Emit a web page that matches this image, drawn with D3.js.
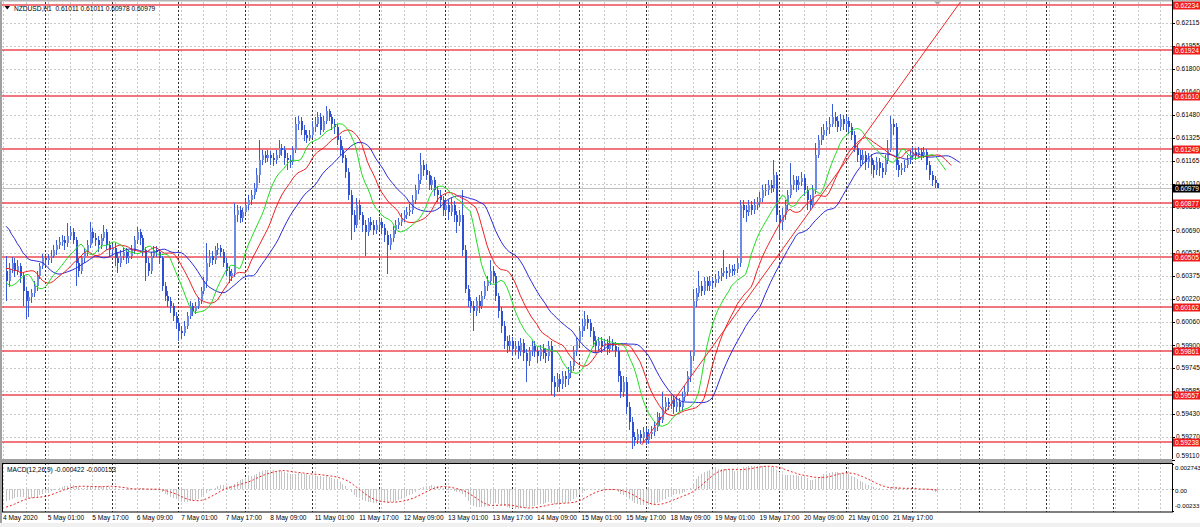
<!DOCTYPE html>
<html><head><meta charset="utf-8">
<script src="https://cdn.jsdelivr.net/npm/d3@7"></script>
<style>
body{margin:0;background:#fff;overflow:hidden;}
svg{display:block;}
text{font-family:"Liberation Sans",Arial,sans-serif;}
</style>
</head><body>
<svg id="c" width="1200" height="527"></svg>
<script>
// ---------------- DATA ----------------
const symbolTitle = "NZDUSD,H1  0.61011 0.61011 0.60978 0.60979";
const macdTitle = "MACD(12,26,9) -0.000422 -0.000153";

const opens = [
0.60413,0.60343,0.60427,0.60468,0.60413,0.60447,0.60378,0.60274,0.60205,0.60232,
0.60260,0.60308,0.60378,0.60447,0.60496,0.60482,0.60496,0.60516,0.60551,0.60585,
0.60606,0.60620,0.60599,0.60647,0.60675,0.60620,0.60468,0.60413,0.60496,0.60537,
0.60585,0.60675,0.60634,0.60620,0.60585,0.60634,0.60675,0.60585,0.60551,0.60565,
0.60496,0.60468,0.60516,0.60537,0.60496,0.60516,0.60551,0.60620,0.60675,0.60634,
0.60551,0.60468,0.60413,0.60516,0.60551,0.60537,0.60496,0.60308,0.60239,0.60205,
0.60170,0.60101,0.60053,0.59997,0.59983,0.60032,0.60101,0.60170,0.60136,0.60170,
0.60205,0.60274,0.60343,0.60468,0.60516,0.60482,0.60551,0.60565,0.60537,0.60468,
0.60413,0.60378,0.60399,0.60793,0.60828,0.60773,0.60814,0.60862,0.60897,0.60931,
0.60980,0.61070,0.61174,0.61208,0.61188,0.61208,0.61188,0.61174,0.61208,0.61257,
0.61243,0.61188,0.61174,0.61160,0.61243,0.61416,0.61437,0.61381,0.61346,0.61326,
0.61346,0.61396,0.61416,0.61465,0.61381,0.61437,0.61506,0.61465,0.61416,0.61396,
0.61312,0.61243,0.61188,0.61091,0.60931,0.60793,0.60724,0.60862,0.60793,0.60724,
0.60675,0.60745,0.60724,0.60689,0.60724,0.60745,0.60703,0.60654,0.60585,0.60634,
0.60689,0.60724,0.60745,0.60773,0.60793,0.60814,0.60828,0.60897,0.60966,0.61035,
0.61139,0.61105,0.61070,0.61000,0.61035,0.60966,0.60931,0.60897,0.60828,0.60862,
0.60814,0.60862,0.60793,0.60745,0.60793,0.60551,0.60288,0.60205,0.60170,0.60136,
0.60205,0.60170,0.60239,0.60308,0.60343,0.60413,0.60378,0.60239,0.60136,0.60032,
0.59928,0.59893,0.59928,0.59873,0.59893,0.59859,0.59914,0.59845,0.59790,0.59859,
0.59893,0.59859,0.59824,0.59873,0.59845,0.59824,0.59893,0.59651,0.59616,0.59666,
0.59637,0.59686,0.59666,0.59707,0.59755,0.59859,0.59928,0.59997,0.60032,0.60081,
0.60053,0.59997,0.59928,0.59893,0.59928,0.59893,0.59914,0.59873,0.59914,0.59893,
0.59859,0.59686,0.59582,0.59651,0.59478,0.59375,0.59270,0.59250,0.59291,0.59263,
0.59305,0.59250,0.59291,0.59305,0.59340,0.59409,0.59389,0.59478,0.59513,0.59499,
0.59527,0.59478,0.59513,0.59478,0.59547,0.59582,0.59686,0.59824,0.60205,0.60260,
0.60308,0.60274,0.60343,0.60308,0.60343,0.60329,0.60357,0.60378,0.60399,0.60413,
0.60399,0.60427,0.60413,0.60427,0.60468,0.60862,0.60828,0.60814,0.60862,0.60828,
0.60862,0.60883,0.60911,0.60966,0.60966,0.61000,0.60980,0.61070,0.60793,0.60745,
0.60793,0.60862,0.60931,0.61000,0.61035,0.61000,0.61021,0.61050,0.60966,0.60897,
0.60862,0.60966,0.61208,0.61312,0.61346,0.61381,0.61396,0.61416,0.61465,0.61437,
0.61396,0.61451,0.61416,0.61437,0.61396,0.61346,0.61257,0.61208,0.61174,0.61208,
0.61160,0.61188,0.61139,0.61105,0.61160,0.61119,0.61091,0.61174,0.61243,0.61416,
0.61396,0.61139,0.61105,0.61119,0.61139,0.61174,0.61208,0.61229,0.61208,0.61229,
0.61208,0.61229,0.61139,0.61070,0.61035,0.61011];

const highs = [
0.60516,0.60468,0.60503,0.60496,0.60482,0.60468,0.60399,0.60301,0.60274,0.60288,
0.60343,0.60413,0.60468,0.60530,0.60523,0.60530,0.60551,0.60585,0.60620,0.60641,
0.60654,0.60647,0.60738,0.60717,0.60703,0.60641,0.60496,0.60516,0.60565,0.60620,
0.60745,0.60703,0.60668,0.60647,0.60661,0.60724,0.60696,0.60613,0.60592,0.60599,
0.60537,0.60551,0.60572,0.60565,0.60551,0.60585,0.60647,0.60710,0.60696,0.60654,
0.60572,0.60496,0.60537,0.60579,0.60579,0.60558,0.60516,0.60336,0.60274,0.60232,
0.60191,0.60129,0.60081,0.60032,0.60067,0.60129,0.60205,0.60191,0.60198,0.60232,
0.60301,0.60371,0.60599,0.60551,0.60544,0.60579,0.60599,0.60585,0.60558,0.60496,
0.60440,0.60427,0.60876,0.60862,0.60855,0.60842,0.60897,0.60931,0.60966,0.61014,
0.61118,0.61312,0.61243,0.61236,0.61243,0.61236,0.61222,0.61243,0.61312,0.61284,
0.61271,0.61222,0.61208,0.61271,0.61465,0.61472,0.61465,0.61409,0.61381,0.61381,
0.61437,0.61465,0.61499,0.61492,0.61472,0.61541,0.61520,0.61485,0.61451,0.61416,
0.61340,0.61271,0.61208,0.61118,0.60966,0.60828,0.60911,0.60897,0.60814,0.60759,
0.60773,0.60780,0.60759,0.60759,0.60780,0.60773,0.60731,0.60682,0.60661,0.60717,
0.60759,0.60773,0.60807,0.60828,0.60849,0.60869,0.60931,0.61000,0.61077,0.61222,
0.61174,0.61146,0.61098,0.61063,0.61056,0.60994,0.60966,0.60925,0.60911,0.60897,
0.60911,0.60890,0.60821,0.60828,0.60966,0.60585,0.60315,0.60232,0.60205,0.60232,
0.60246,0.60274,0.60343,0.60378,0.60482,0.60447,0.60399,0.60260,0.60163,0.60067,
0.59963,0.59970,0.59956,0.59928,0.59928,0.59949,0.59942,0.59873,0.59886,0.59928,
0.59928,0.59886,0.59900,0.59907,0.59879,0.59928,0.59928,0.59686,0.59707,0.59700,
0.59721,0.59721,0.59748,0.59790,0.59893,0.59949,0.60032,0.60081,0.60136,0.60108,
0.60081,0.60025,0.59963,0.59956,0.59956,0.59942,0.59942,0.59963,0.59942,0.59921,
0.59886,0.59721,0.59686,0.59679,0.59513,0.59409,0.59305,0.59326,0.59319,0.59340,
0.59333,0.59326,0.59347,0.59382,0.59444,0.59437,0.59582,0.59547,0.59540,0.59561,
0.59554,0.59547,0.59540,0.59582,0.59623,0.59721,0.59859,0.60288,0.60295,0.60413,
0.60343,0.60371,0.60371,0.60378,0.60371,0.60392,0.60413,0.60433,0.60551,0.60440,
0.60461,0.60454,0.60461,0.60496,0.60897,0.60897,0.60862,0.60897,0.60890,0.60904,
0.60918,0.60952,0.61000,0.61007,0.61035,0.61035,0.61174,0.61091,0.60814,0.60842,
0.60897,0.60966,0.61153,0.61070,0.61063,0.61063,0.61091,0.61077,0.60994,0.60931,
0.61000,0.61292,0.61346,0.61396,0.61416,0.61437,0.61465,0.61554,0.61499,0.61472,
0.61485,0.61478,0.61472,0.61465,0.61423,0.61374,0.61284,0.61243,0.61243,0.61236,
0.61222,0.61215,0.61174,0.61195,0.61188,0.61153,0.61208,0.61312,0.61472,0.61451,
0.61423,0.61174,0.61153,0.61174,0.61208,0.61243,0.61264,0.61257,0.61264,0.61257,
0.61264,0.61250,0.61167,0.61098,0.61063,0.61011];

const lows = [
0.60205,0.60301,0.60399,0.60371,0.60385,0.60329,0.60170,0.60081,0.60094,0.60191,
0.60232,0.60274,0.60357,0.60427,0.60447,0.60454,0.60468,0.60496,0.60523,0.60558,
0.60579,0.60551,0.60572,0.60620,0.60592,0.60308,0.60371,0.60392,0.60468,0.60510,
0.60565,0.60599,0.60579,0.60537,0.60558,0.60613,0.60551,0.60510,0.60516,0.60447,
0.60399,0.60440,0.60482,0.60461,0.60468,0.60489,0.60530,0.60592,0.60585,0.60510,
0.60343,0.60378,0.60392,0.60496,0.60503,0.60461,0.60274,0.60205,0.60163,0.60122,
0.60067,0.60011,0.59928,0.59942,0.59963,0.60011,0.60081,0.60101,0.60115,0.60149,
0.60184,0.60253,0.60295,0.60440,0.60454,0.60461,0.60523,0.60503,0.60440,0.60378,
0.60329,0.60343,0.60371,0.60745,0.60738,0.60745,0.60793,0.60828,0.60862,0.60904,
0.60952,0.61014,0.61139,0.61153,0.61160,0.61139,0.61132,0.61146,0.61188,0.61201,
0.61139,0.61105,0.61118,0.61139,0.61222,0.61381,0.61346,0.61299,0.61292,0.61305,
0.61326,0.61361,0.61396,0.61346,0.61361,0.61416,0.61437,0.61381,0.61353,0.61278,
0.61208,0.61153,0.61049,0.60897,0.60620,0.60675,0.60703,0.60759,0.60675,0.60516,
0.60648,0.60689,0.60654,0.60661,0.60689,0.60661,0.60606,0.60392,0.60551,0.60606,
0.60661,0.60696,0.60717,0.60745,0.60766,0.60787,0.60800,0.60869,0.60939,0.61007,
0.61063,0.61035,0.60966,0.60966,0.60925,0.60883,0.60842,0.60787,0.60793,0.60759,
0.60787,0.60745,0.60668,0.60717,0.60516,0.60260,0.60163,0.60122,0.59997,0.60101,
0.60122,0.60149,0.60219,0.60274,0.60315,0.60329,0.60205,0.60087,0.59983,0.59873,
0.59845,0.59859,0.59824,0.59831,0.59804,0.59824,0.59790,0.59651,0.59755,0.59824,
0.59817,0.59776,0.59790,0.59804,0.59776,0.59790,0.59561,0.59547,0.59582,0.59582,
0.59603,0.59616,0.59630,0.59672,0.59721,0.59824,0.59893,0.59956,0.59997,0.60011,
0.59956,0.59886,0.59845,0.59859,0.59845,0.59859,0.59831,0.59845,0.59859,0.59817,
0.59651,0.59540,0.59547,0.59430,0.59319,0.59188,0.59209,0.59222,0.59222,0.59236,
0.59215,0.59222,0.59257,0.59278,0.59312,0.59347,0.59368,0.59444,0.59458,0.59465,
0.59430,0.59444,0.59444,0.59451,0.59520,0.59554,0.59651,0.59790,0.60163,0.60232,
0.60239,0.60246,0.60274,0.60274,0.60288,0.60301,0.60329,0.60343,0.60371,0.60357,
0.60371,0.60378,0.60385,0.60399,0.60440,0.60772,0.60745,0.60787,0.60793,0.60800,
0.60828,0.60849,0.60883,0.60925,0.60931,0.60945,0.60952,0.60745,0.60620,0.60689,
0.60759,0.60828,0.60911,0.60966,0.60952,0.60966,0.60994,0.60925,0.60828,0.60828,
0.60842,0.60939,0.61188,0.61278,0.61312,0.61340,0.61353,0.61396,0.61396,0.61361,
0.61374,0.61381,0.61381,0.61353,0.61312,0.61229,0.61160,0.61132,0.61146,0.61105,
0.61118,0.61077,0.61049,0.61070,0.61063,0.61049,0.61070,0.61146,0.61229,0.61346,
0.61105,0.61056,0.61070,0.61091,0.61118,0.61146,0.61174,0.61174,0.61188,0.61174,
0.61188,0.61105,0.61035,0.60994,0.60980,0.60978];

const closes = [
0.60343,0.60427,0.60468,0.60413,0.60447,0.60378,0.60274,0.60205,0.60232,0.60260,
0.60308,0.60378,0.60447,0.60496,0.60482,0.60496,0.60516,0.60551,0.60585,0.60606,
0.60620,0.60599,0.60647,0.60675,0.60620,0.60468,0.60413,0.60496,0.60537,0.60585,
0.60675,0.60634,0.60620,0.60585,0.60634,0.60675,0.60585,0.60551,0.60565,0.60496,
0.60468,0.60516,0.60537,0.60496,0.60516,0.60551,0.60620,0.60675,0.60634,0.60551,
0.60468,0.60413,0.60516,0.60551,0.60537,0.60496,0.60308,0.60239,0.60205,0.60170,
0.60101,0.60053,0.59997,0.59983,0.60032,0.60101,0.60170,0.60136,0.60170,0.60205,
0.60274,0.60343,0.60468,0.60516,0.60482,0.60551,0.60565,0.60537,0.60468,0.60413,
0.60378,0.60399,0.60793,0.60828,0.60773,0.60814,0.60862,0.60897,0.60931,0.60980,
0.61070,0.61174,0.61208,0.61188,0.61208,0.61188,0.61174,0.61208,0.61257,0.61243,
0.61188,0.61174,0.61160,0.61243,0.61416,0.61437,0.61381,0.61346,0.61326,0.61346,
0.61396,0.61416,0.61465,0.61381,0.61437,0.61506,0.61465,0.61416,0.61396,0.61312,
0.61243,0.61188,0.61091,0.60931,0.60793,0.60724,0.60862,0.60793,0.60724,0.60675,
0.60745,0.60724,0.60689,0.60724,0.60745,0.60703,0.60654,0.60585,0.60634,0.60689,
0.60724,0.60745,0.60773,0.60793,0.60814,0.60828,0.60897,0.60966,0.61035,0.61139,
0.61105,0.61070,0.61000,0.61035,0.60966,0.60931,0.60897,0.60828,0.60862,0.60814,
0.60862,0.60793,0.60745,0.60793,0.60551,0.60288,0.60205,0.60170,0.60136,0.60205,
0.60170,0.60239,0.60308,0.60343,0.60413,0.60378,0.60239,0.60136,0.60032,0.59928,
0.59893,0.59928,0.59873,0.59893,0.59859,0.59914,0.59845,0.59790,0.59859,0.59893,
0.59859,0.59824,0.59873,0.59845,0.59824,0.59893,0.59651,0.59616,0.59666,0.59637,
0.59686,0.59666,0.59707,0.59755,0.59859,0.59928,0.59997,0.60032,0.60081,0.60053,
0.59997,0.59928,0.59893,0.59928,0.59893,0.59914,0.59873,0.59914,0.59893,0.59859,
0.59686,0.59582,0.59651,0.59478,0.59375,0.59270,0.59250,0.59291,0.59263,0.59305,
0.59250,0.59291,0.59305,0.59340,0.59409,0.59389,0.59478,0.59513,0.59499,0.59527,
0.59478,0.59513,0.59478,0.59547,0.59582,0.59686,0.59824,0.60205,0.60260,0.60308,
0.60274,0.60343,0.60308,0.60343,0.60329,0.60357,0.60378,0.60399,0.60413,0.60399,
0.60427,0.60413,0.60427,0.60468,0.60862,0.60828,0.60814,0.60862,0.60828,0.60862,
0.60883,0.60911,0.60966,0.60966,0.61000,0.60980,0.61070,0.60793,0.60745,0.60793,
0.60862,0.60931,0.61000,0.61035,0.61000,0.61021,0.61050,0.60966,0.60897,0.60862,
0.60966,0.61208,0.61312,0.61346,0.61381,0.61396,0.61416,0.61465,0.61437,0.61396,
0.61451,0.61416,0.61437,0.61396,0.61346,0.61257,0.61208,0.61174,0.61208,0.61160,
0.61188,0.61139,0.61105,0.61160,0.61119,0.61091,0.61174,0.61243,0.61416,0.61396,
0.61139,0.61105,0.61119,0.61139,0.61174,0.61208,0.61229,0.61208,0.61229,0.61208,
0.61229,0.61139,0.61070,0.61035,0.61011,0.60979];

// time axis labels and the bar index each one belongs to
const timeLabels = ["4 May 2020","5 May 01:00","5 May 17:00","6 May 09:00","7 May 01:00","7 May 17:00",
  "8 May 09:00","11 May 01:00","11 May 17:00","12 May 09:00","13 May 01:00","13 May 17:00","14 May 09:00",
  "15 May 01:00","15 May 17:00","18 May 09:00","19 May 01:00","19 May 17:00","20 May 09:00","21 May 01:00","21 May 17:00"];
const timeLabelBars = [0,15,31,47,63,79,95,111,127,143,159,175,191,207,223,239,255,271,287,303,319];
const daySeparatorBars = [14,38,62,86,110,134,158,182,206,230,254,278,302,326,350,374,398];

const priceTicks = [0.62115,0.61955,0.61800,0.61640,0.61480,0.61325,0.61165,0.61010,0.60850,0.60690,
  0.60535,0.60375,0.60220,0.60060,0.59900,0.59745,0.59585,0.59430,0.59270,0.59110];
const levels = [0.62234,0.61924,0.61610,0.61249,0.60877,0.60505,0.60162,0.59861,0.59557,0.59238];
const lastPrice = 0.60979;
const trendPoints = [[228.6,0.59215],[317.9,0.61584]];

const macdTicks = [0.002743, 0, -0.00233];
const macdTickLabels = ["0.002743","0.00","-0.00233"];

// Alligator: values displayed before the first computed point, and SMMA seeds (jaw, teeth, lips)
const jawLead = [0.60717,0.60697,0.60661,0.60634,0.60599,0.60572,0.60537,0.60516];
const teethLead = [0.60427,0.60427,0.60420,0.60413,0.60413];
const lipsLead = [0.60330,0.60315,0.60308];
const alligatorSeeds = [0.60503,0.60406,0.60308];
// MACD seeds: EMA12, EMA26, signal level before first bar
const macdSeeds = [0.60400,0.60530,-0.0020];

// ---------------- DRAWING ----------------
const svg = d3.select('#c');
const L = 2, R = 1172, mT = 2, mB = 459, pT = 463, pB = 512;

const x = d3.scaleLinear().domain([0, 335]).range([6.1, 937.4]);
const y = d3.scaleLinear().domain([0.59238, 0.62234]).range([441.7, 5.3]);
const ym = d3.scaleLinear().domain([-0.00233, 0.002743]).range([511, 464]);

const defs = svg.append('defs');
defs.append('clipPath').attr('id','cm').append('rect').attr('x',L).attr('y',mT).attr('width',R-L).attr('height',mB-mT);
defs.append('clipPath').attr('id','cp').append('rect').attr('x',L).attr('y',pT).attr('width',R-L).attr('height',pB-pT);

// background pieces
svg.append('rect').attr('x',0).attr('y',0).attr('width',1200).attr('height',527).attr('fill','#ffffff');
svg.append('rect').attr('x',0).attr('y',523).attr('width',1200).attr('height',4).attr('fill','#f0f0f0');
svg.append('rect').attr('x',0).attr('y',0).attr('width',2).attr('height',523).attr('fill','#a0a0a0');
svg.append('rect').attr('x',0).attr('y',0).attr('width',1200).attr('height',1.5).attr('fill','#b4b4b4');

const gridBars = d3.range(-1, 426, 8);
function vgrid(g, top, bottom){
  g.selectAll(null).data(gridBars).join('line')
    .attr('x1',d=>Math.round(x(d))+0.5).attr('x2',d=>Math.round(x(d))+0.5)
    .attr('y1',top).attr('y2',bottom)
    .attr('stroke','#c8c8c8').attr('stroke-width',1).attr('stroke-dasharray','2,2');
  g.selectAll(null).data(daySeparatorBars).join('line')
    .attr('x1',d=>Math.round(x(d))+0.5).attr('x2',d=>Math.round(x(d))+0.5)
    .attr('y1',top).attr('y2',bottom)
    .attr('stroke','#303030').attr('stroke-width',1).attr('stroke-dasharray','2,2');
}
const gMain = svg.append('g').attr('clip-path','url(#cm)');
const gMacd = svg.append('g').attr('clip-path','url(#cp)');

// horizontal grid
gMain.selectAll(null).data(priceTicks).join('line')
  .attr('x1',L).attr('x2',R)
  .attr('y1',d=>Math.round(y(d))+0.5).attr('y2',d=>Math.round(y(d))+0.5)
  .attr('stroke','#c8c8c8').attr('stroke-dasharray','2,2');
vgrid(gMain, mT, mB);
vgrid(gMacd, pT, pB);
gMacd.append('line').attr('x1',L).attr('x2',R)
  .attr('y1',Math.round(ym(0))+0.5).attr('y2',Math.round(ym(0))+0.5)
  .attr('stroke','#c8c8c8').attr('stroke-dasharray','2,2');

// bid line
gMain.append('line').attr('x1',L).attr('x2',R)
  .attr('y1',Math.round(y(lastPrice))+0.5).attr('y2',Math.round(y(lastPrice))+0.5)
  .attr('stroke','#c0c0c0');

// support / resistance levels (soft 2px red, like the anti-aliased original)
gMain.append('g')
  .selectAll(null).data(levels).join('line')
  .attr('x1',L).attr('x2',R)
  .attr('y1',d=>Math.round(y(d))).attr('y2',d=>Math.round(y(d)))
  .attr('stroke','#ea2834').attr('stroke-width',1.3).attr('stroke-opacity',0.85);

// candles
const bars = closes.map((c,i)=>({i, o:opens[i], h:Math.max(highs[i],opens[i],c), l:Math.min(lows[i],opens[i],c), c}));
const gC = gMain.append('g').attr('shape-rendering','crispEdges');
gC.selectAll(null).data(bars).join('line')
  .attr('x1',d=>Math.round(x(d.i))+0.5).attr('x2',d=>Math.round(x(d.i))+0.5)
  .attr('y1',d=>y(d.h)).attr('y2',d=>y(d.l))
  .attr('stroke','#3a5cd8');
gC.selectAll(null).data(bars).join('rect')
  .attr('x',d=>Math.round(x(d.i)))
  .attr('width',2)
  .attr('y',d=>Math.min(y(d.o),y(d.c)))
  .attr('height',d=>Math.max(1,Math.abs(y(d.o)-y(d.c))))
  .attr('fill',d=>d.c>=d.o?'#6d8ae6':'#2d4fd0');

// Alligator (SMMA of median price, shifted forward)
const median = highs.map((h,i)=>(h+lows[i])/2);
function smma(seed, n){ let v = seed; return median.map(m => (v = (v*(n-1)+m)/n)); }
const jaw = smma(alligatorSeeds[0],13), teeth = smma(alligatorSeeds[1],8), lips = smma(alligatorSeeds[2],5);
const lineGen = d3.line().x(d=>x(d[0])).y(d=>y(d[1]));
const jawPts = jawLead.map((v,i)=>[i,v]).concat(jaw.map((v,i)=>[i+8,v]));
const teethPts = teethLead.map((v,i)=>[i,v]).concat(teeth.map((v,i)=>[i+5,v]));
const lipsPts = lipsLead.map((v,i)=>[i,v]).concat(lips.map((v,i)=>[i+3,v]));
gMain.append('path').attr('d',lineGen(jawPts)).attr('fill','none').attr('stroke','#2a2ad8').attr('stroke-width',1);
gMain.append('path').attr('d',lineGen(teethPts)).attr('fill','none').attr('stroke','#ee2020').attr('stroke-width',1);
gMain.append('path').attr('d',lineGen(lipsPts)).attr('fill','none').attr('stroke','#22dd22').attr('stroke-width',1);

// trend line (ray)
{
  const [a,b] = trendPoints;
  const x1 = x(a[0]), y1 = y(a[1]), x2 = x(b[0]), y2 = y(b[1]);
  gMain.append('line').attr('x1',x1).attr('y1',y1)
    .attr('x2',x1+(x2-x1)*4).attr('y2',y1+(y2-y1)*4)
    .attr('stroke','#ee2a2a').attr('stroke-width',1);
}

// MACD
let e12 = macdSeeds[0], e26 = macdSeeds[1];
const mainV = closes.map(c => { e12 += (c-e12)*2/13; e26 += (c-e26)*2/27; return e12-e26; });
const signalV = mainV.map((v,i) => { let s = 0; for (let j=i-8;j<=i;j++) s += j>=0 ? mainV[j] : macdSeeds[2]; return s/9; });
gMacd.append('g').attr('shape-rendering','crispEdges').selectAll(null).data(mainV).join('line')
  .attr('x1',(d,i)=>Math.round(x(i))+0.5).attr('x2',(d,i)=>Math.round(x(i))+0.5)
  .attr('y1',ym(0)).attr('y2',d=>ym(d))
  .attr('stroke','#c4c4c4');
gMacd.append('path').attr('d', d3.line().x((d,i)=>x(i)).y(d=>ym(d))(signalV))
  .attr('fill','none').attr('stroke','#ee2020').attr('stroke-dasharray','2,2').attr('stroke-width',1);

// frames
svg.append('rect').attr('x',0).attr('y',mB).attr('width',R+0.5).attr('height',pT-mB).attr('fill','#a0a0a0');
svg.append('line').attr('x1',R+0.5).attr('x2',R+0.5).attr('y1',0).attr('y2',mB).attr('stroke','#000');
svg.append('rect').attr('x',L+0.5).attr('y',pT+0.5).attr('width',R-L).attr('height',pB-pT-0.5)
  .attr('fill','none').attr('stroke','#000');

// chart shift marker
svg.append('path').attr('d','M934,1.5L941,1.5L937.5,5Z').attr('fill','#a8a8a8');

// price axis labels
const fmt5 = d3.format('.5f');
const fs = 6.6;
svg.selectAll(null).data(priceTicks).join('line')
  .attr('x1',R).attr('x2',R+3).attr('y1',d=>Math.round(y(d))+0.5).attr('y2',d=>Math.round(y(d))+0.5).attr('stroke','#000');
svg.selectAll(null).data(priceTicks).join('text')
  .attr('x',R+4).attr('y',d=>Math.min(y(d), 456)).attr('dy','0.35em')
  .attr('font-size',fs).attr('fill','#000').text(d=>fmt5(d));

// level labels
const lg = svg.selectAll(null).data(levels).join('g');
lg.append('rect').attr('x',R+1).attr('width',28).attr('y',d=>Math.round(y(d))-3.5).attr('height',8).attr('fill','#f01c1c');
lg.append('text').attr('x',R+3).attr('y',d=>Math.round(y(d))+0.5).attr('dy','0.35em')
  .attr('font-size',fs).attr('fill','#fff').text(d=>fmt5(d));
// last price label
svg.append('rect').attr('x',R+1).attr('width',28).attr('y',Math.round(y(lastPrice))-3.5).attr('height',8).attr('fill','#000');
svg.append('text').attr('x',R+3).attr('y',Math.round(y(lastPrice))+0.5).attr('dy','0.35em')
  .attr('font-size',fs).attr('fill','#fff').text(fmt5(lastPrice));

// MACD axis labels
svg.selectAll(null).data(macdTicks).join('text')
  .attr('x',R+3).attr('y',(d,i)=>[468,490.5,506][i]).attr('dy','0.35em')
  .attr('font-size',6.2).attr('fill','#000').text((d,i)=>macdTickLabels[i]);
svg.selectAll(null).data(macdTicks).join('line')
  .attr('x1',R).attr('x2',R+2).attr('y1',d=>Math.round(ym(d))+0.5).attr('y2',d=>Math.round(ym(d))+0.5).attr('stroke','#000');

// time labels
svg.selectAll(null).data(timeLabels).join('text')
  .attr('x',(d,i)=>x(timeLabelBars[i])-(i===0?3:0)).attr('y',517.5).attr('dy','0.35em')
  .attr('font-size',fs).attr('fill','#000').text(d=>d);

// titles
svg.append('path').attr('d','M4.5,6L10,6L7.25,9.5Z').attr('fill','#000');
svg.append('text').attr('x',14).attr('y',8.5).attr('dy','0.35em').attr('font-size',fs).attr('fill','#000')
  .attr('xml:space','preserve').style('white-space','pre').text(symbolTitle);
svg.append('text').attr('x',7).attr('y',470).attr('dy','0.35em').attr('font-size',fs).attr('fill','#000').text(macdTitle);
</script>
</body></html>
